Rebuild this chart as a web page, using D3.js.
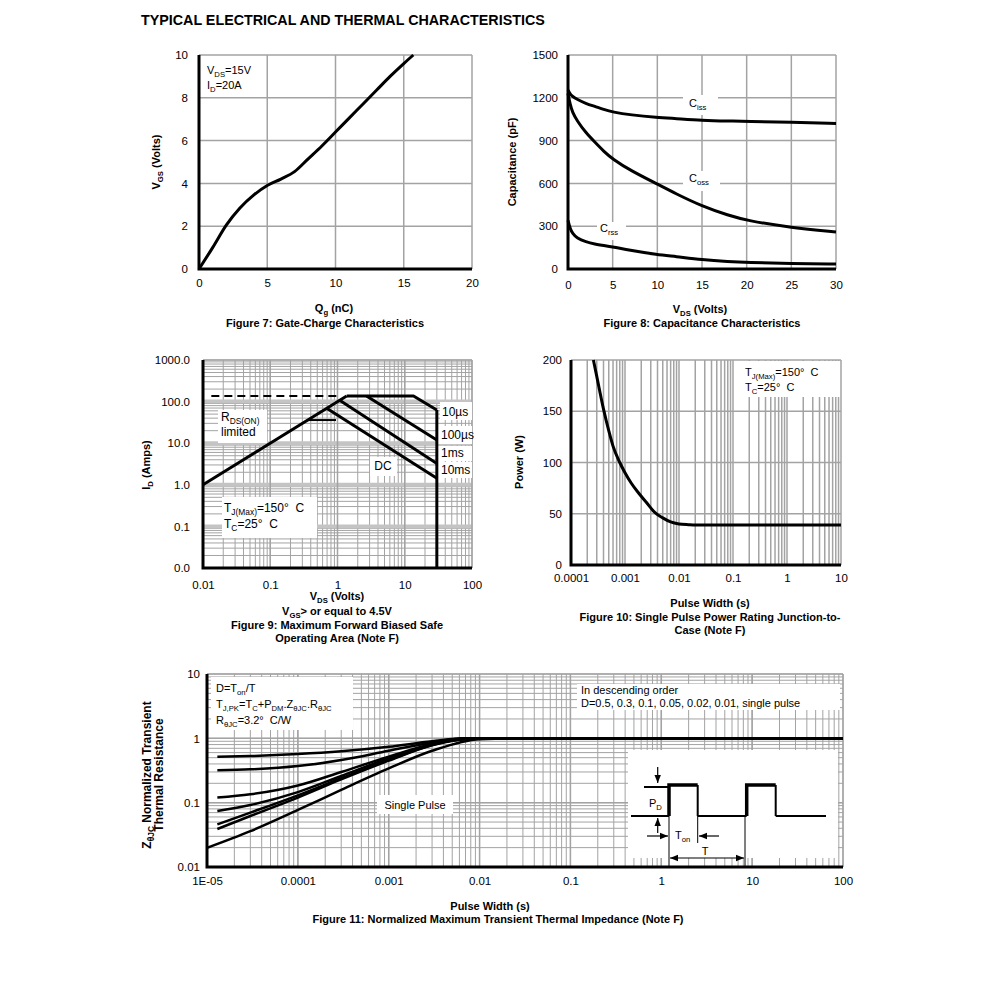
<!DOCTYPE html>
<html>
<head>
<meta charset="utf-8">
<script src="https://cdn.jsdelivr.net/npm/d3@7"></script>
<style>
  body { margin: 0; background: #fff; }
  text { font-family: 'Liberation Sans', Arial, sans-serif; fill: #000; }
</style>
</head>
<body>
<script>
// Figure 7: gate charge
const gateQ = [0, 1, 2, 3, 4, 5, 6, 7, 8, 9, 10, 11, 12, 13, 14, 15, 15.7]
const gateV = [0, 1, 2.05, 2.85, 3.45, 3.9, 4.2, 4.55, 5.15, 5.75, 6.4, 7.05, 7.7, 8.35, 9.0, 9.6, 10]

// Figure 8: capacitance
const capV = [0, 0.25, 0.5, 1, 2, 3, 4, 5, 7, 10, 12, 15, 18, 20, 25, 30]
const ciss = [1255, 1225, 1210, 1190, 1160, 1140, 1118, 1100, 1080, 1062, 1055, 1042, 1037, 1035, 1028, 1020]
const coss = [1230, 1150, 1100, 1040, 955, 890, 825, 770, 690, 595, 530, 440, 375, 340, 290, 260]
const crss = [340, 280, 250, 215, 190, 175, 165, 155, 130, 100, 88, 65, 52, 46, 38, 35]

// Figure 9: SOA
const rdsV = [0.01, 1.37]
const rdsI = [1, 137]
const dashV = [0.0133, 1.09]
const dashI = [137, 137]
const us10V = [1.37, 13.5, 30]
const us10I = [137, 137, 63]
const us100V = [2.7, 30]
const us100I = [137, 11.9]
const ms1V = [1.09, 30]
const ms1I = [106, 3.27]
const dcV = [0.69, 30]
const dcI = [69, 1.43]
const stepV = [0.35, 0.95]
const stepI = [36, 36]
const edgeV = [30, 30]
const edgeI = [63, 0.01]

// Figure 10: single pulse power
const pulseW = [0.00026, 0.0003, 0.0004, 0.0005, 0.0006, 0.0008, 0.001, 0.0013, 0.0018, 0.0025, 0.0036, 0.005, 0.007, 0.01, 0.015, 0.02, 10]
const pulseP = [200, 184, 152, 131, 116, 100, 90, 80, 70, 61, 51, 46, 42, 40, 39.3, 39, 39]

// Figure 11: transient thermal impedance
const zT = [1.3e-5, 3e-5, 1e-4, 3e-4, 1e-3, 3e-3, 7e-3, 0.02, 100]
const zD50 = [0.516, 0.53, 0.57, 0.63, 0.74, 0.9, 1.0, 1.0, 1.0]
const zD30 = [0.32, 0.33, 0.37, 0.46, 0.64, 0.86, 1.0, 1.0, 1.0]
const zD10 = [0.12, 0.135, 0.185, 0.3, 0.52, 0.82, 0.99, 1.0, 1.0]
const zD05 = [0.074, 0.092, 0.146, 0.26, 0.49, 0.8, 0.98, 1.0, 1.0]
const zD02 = [0.046, 0.07, 0.13, 0.24, 0.46, 0.79, 0.98, 1.0, 1.0]
const zD01 = [0.039, 0.062, 0.12, 0.23, 0.45, 0.78, 0.97, 1.0, 1.0]
const zSingleT = [1e-5, 3e-5, 1e-4, 3e-4, 1e-3, 3e-3, 1e-2, 0.03, 100]
const zSingle = [0.0198, 0.036, 0.077, 0.158, 0.34, 0.64, 0.97, 1.0, 1.0]

// tick labels
const f7xTicks = [0, 5, 10, 15, 20]
const f7yTicks = [0, 2, 4, 6, 8, 10]
const f8xTicks = [0, 5, 10, 15, 20, 25, 30]
const f8yTicks = [0, 300, 600, 900, 1200, 1500]
const f9xTicks = [0.01, 0.1, 1, 10, 100]
const f9xLabels = ['0.01', '0.1', '1', '10', '100']
const f9yTicks = [0.01, 0.1, 1, 10, 100, 1000]
const f9yLabels = ['0.0', '0.1', '1.0', '10.0', '100.0', '1000.0']
const f10xTicks = [0.0001, 0.001, 0.01, 0.1, 1, 10]
const f10xLabels = ['0.0001', '0.001', '0.01', '0.1', '1', '10']
const f10yTicks = [0, 50, 100, 150, 200]
const f11xTicks = [1e-5, 1e-4, 1e-3, 1e-2, 0.1, 1, 10, 100]
const f11xLabels = ['1E-05', '0.0001', '0.001', '0.01', '0.1', '1', '10', '100']
const f11yTicks = [0.01, 0.1, 1, 10]
const f11yLabels = ['0.01', '0.1', '1', '10']

const svg = d3.select('body').append('svg')
  .attr('width', 991)
  .attr('height', 982)

const GRID = '#a3a3a3'
const SP = '\u00a0'

// text with subscripts: parts are strings or [subscript]
const rich = (sel, parts) => {
  let shift = 0
  parts.forEach(p => {
    const sub = Array.isArray(p)
    const target = sub ? 2.5 : 0
    sel.append('tspan')
      .attr('dy', target - shift)
      .attr('font-size', sub ? '0.7em' : null)
      .text(sub ? p[0] : p)
    shift = target
  })
  return sel
}

const label = (x, y, parts, opts = {}) => {
  const t = svg.append('text')
    .attr('x', x).attr('y', y)
    .attr('font-size', opts.size || 11)
    .attr('font-weight', opts.bold ? 'bold' : null)
    .attr('text-anchor', opts.anchor || 'start')
  if (opts.rotate) t.attr('transform', `rotate(-90,${x},${y})`)
  return rich(t, parts)
}

const logTicks = (lo, hi) => d3.range(lo, hi).flatMap(e => d3.range(1, 10).map(k => +(k * Math.pow(10, e)).toPrecision(3))).concat([Math.pow(10, hi)])

const grid = (x, y, xs, ys, w = 1.5, color = GRID) => {
  const g = svg.append('g').attr('stroke', color).attr('stroke-width', w)
  g.selectAll(null).data(xs).join('line')
    .attr('x1', d => x(d)).attr('x2', d => x(d))
    .attr('y1', y.range()[0]).attr('y2', y.range()[1])
  g.selectAll(null).data(ys).join('line')
    .attr('y1', d => y(d)).attr('y2', d => y(d))
    .attr('x1', x.range()[0]).attr('x2', x.range()[1])
}

const box = (x0, y0, x1, y1) => {
  svg.append('rect').attr('x', x0).attr('y', y0)
    .attr('width', x1 - x0).attr('height', y1 - y0)
    .attr('fill', '#fff')
}

const axes = (x, y, xVals, xLabels, yVals, yLabels, padX, padY) => {
  svg.append('g')
    .attr('transform', `translate(0,${y.range()[0]})`)
    .call(d3.axisBottom(x).tickValues(xVals).tickFormat((d, i) => xLabels[i]).tickSize(0).tickPadding(padX))
    .call(g => g.select('.domain').remove())
    .call(g => g.selectAll('text').attr('font-size', 11.5).attr('font-family', null))
  svg.append('g')
    .attr('transform', `translate(${x.range()[0]},0)`)
    .call(d3.axisLeft(y).tickValues(yVals).tickFormat((d, i) => yLabels[i]).tickSize(0).tickPadding(padY))
    .call(g => g.select('.domain').remove())
    .call(g => g.selectAll('text').attr('font-size', 11.5).attr('font-family', null))
  const frame = svg.append('g').attr('stroke', '#000').attr('stroke-width', 3).attr('fill', 'none')
  frame.append('path')
    .attr('d', `M${x.range()[0]},${y.range()[1]}V${y.range()[0]}H${x.range()[1]}`)
}

const curve = (x, y, xs, ys, w = 3, dash = null, interp = d3.curveMonotoneX) => {
  svg.append('path')
    .datum(xs.map((d, i) => [d, ys[i]]))
    .attr('fill', 'none')
    .attr('stroke', '#000')
    .attr('stroke-width', w)
    .attr('stroke-dasharray', dash)
    .attr('stroke-linejoin', 'round')
    .attr('d', d3.line().x(d => x(d[0])).y(d => y(d[1])).curve(interp))
}

// title
label(141, 25, ['TYPICAL ELECTRICAL AND THERMAL CHARACTERISTICS'], { size: 14.3, bold: true })

// ---------- Figure 7 ----------
const x7 = d3.scaleLinear([0, 20], [199, 472])
const y7 = d3.scaleLinear([0, 10], [269, 55])
grid(x7, y7, [5, 10, 15, 20], [2, 4, 6, 8, 10])
curve(x7, y7, gateQ, gateV)
axes(x7, y7, f7xTicks, f7xTicks.map(String), f7yTicks, f7yTicks.map(String), 10, 11)
label(207, 74, ['V', ['DS'], '=15V'])
label(207, 89, ['I', ['D'], '=20A'])
label(160, 162, ['V', ['GS'], ' (Volts)'], { bold: true, anchor: 'middle', rotate: true })
label(334, 312, ['Q', ['g'], ' (nC)'], { bold: true, anchor: 'middle' })
label(325, 327, ['Figure 7: Gate-Charge Characteristics'], { bold: true, anchor: 'middle' })

// ---------- Figure 8 ----------
const x8 = d3.scaleLinear([0, 30], [568, 836])
const y8 = d3.scaleLinear([0, 1500], [269, 55])
grid(x8, y8, [5, 10, 15, 20, 25, 30], [300, 600, 900, 1200, 1500])
box(683, 95, 718, 115)
box(683, 171, 720, 191)
box(597, 222, 626, 240)
curve(x8, y8, capV, ciss, 3, null, d3.curveBasis)
curve(x8, y8, capV, coss, 3, null, d3.curveBasis)
curve(x8, y8, capV, crss, 3, null, d3.curveBasis)
axes(x8, y8, f8xTicks, f8xTicks.map(String), f8yTicks, f8yTicks.map(String), 12, 10)
label(689, 107, ['C', ['iss']])
label(689, 182, ['C', ['oss']])
label(600, 232, ['C', ['rss']])
label(516, 162, ['Capacitance (pF)'], { bold: true, anchor: 'middle', rotate: true })
label(700, 313, ['V', ['DS'], ' (Volts)'], { bold: true, anchor: 'middle' })
label(702, 327, ['Figure 8: Capacitance Characteristics'], { bold: true, anchor: 'middle' })

// ---------- Figure 9 ----------
const x9 = d3.scaleLog([0.01, 100], [203, 472])
const y9 = d3.scaleLog([0.01, 1000], [568, 360])
grid(x9, y9, logTicks(-2, 2), logTicks(-2, 3), 1, GRID)
grid(x9, y9, [], [0.1, 1, 10, 100], 4, '#c4c4c4')
grid(x9, y9, f9xTicks, [1000], 1.5, GRID)
box(218, 410, 267, 443)
box(222, 497, 317, 538)
box(370, 457, 397, 476)
box(440, 402, 472, 420)
box(438, 426, 472, 444)
box(438, 446, 472, 461)
box(438, 462, 472, 478)
curve(x9, y9, dashV, dashI, 2, '8,5', d3.curveLinear)
curve(x9, y9, rdsV, rdsI, 3, null, d3.curveLinear)
curve(x9, y9, stepV, stepI, 2, null, d3.curveLinear)
curve(x9, y9, us10V, us10I, 3, null, d3.curveLinear)
curve(x9, y9, us100V, us100I, 3, null, d3.curveLinear)
curve(x9, y9, ms1V, ms1I, 3, null, d3.curveLinear)
curve(x9, y9, dcV, dcI, 3, null, d3.curveLinear)
curve(x9, y9, edgeV, edgeI, 3, null, d3.curveLinear)
axes(x9, y9, f9xTicks, f9xLabels, f9yTicks, f9yLabels, 13, 13)
label(221, 421, ['R', ['DS(ON)']], { size: 12 })
label(221, 436, ['limited'], { size: 12 })
label(224, 512, ['T', ['J(Max)'], '=150°' + SP + SP + 'C'], { size: 12 })
label(224, 528, ['T', ['C'], '=25°' + SP + SP + 'C'], { size: 12 })
label(383, 470, ['DC'], { size: 12, anchor: 'middle' })
label(442, 416, ['10µs'], { size: 12 })
label(441, 439, ['100µs'], { size: 12 })
label(441, 457, ['1ms'], { size: 12 })
label(441, 474, ['10ms'], { size: 12 })
label(150, 465, ['I', ['D'], ' (Amps)'], { bold: true, anchor: 'middle', rotate: true })
label(337, 600, ['V', ['DS'], ' (Volts)'], { bold: true, anchor: 'middle' })
label(337, 615, ['V', ['GS'], '> or equal to 4.5V'], { bold: true, anchor: 'middle' })
label(337, 629, ['Figure 9: Maximum Forward Biased Safe'], { bold: true, anchor: 'middle' })
label(337, 642, ['Operating Area (Note F)'], { bold: true, anchor: 'middle' })

// ---------- Figure 10 ----------
const x10 = d3.scaleLog([0.0001, 10], [571, 841])
const y10 = d3.scaleLinear([0, 200], [565, 360])
grid(x10, y10, logTicks(-4, 1), [50, 100, 150, 200], 1.5, GRID)
box(735, 361, 840, 397)
curve(x10, y10, pulseW, pulseP)
axes(x10, y10, f10xTicks, f10xLabels, f10yTicks, f10yTicks.map(String), 9, 9)
label(745, 376, ['T', ['J(Max)'], '=150°' + SP + SP + 'C'])
label(745, 391, ['T', ['C'], '=25°' + SP + SP + 'C'])
label(523, 462, ['Power (W)'], { bold: true, anchor: 'middle', rotate: true })
label(710, 607, ['Pulse Width (s)'], { bold: true, anchor: 'middle' })
label(710, 621, ['Figure 10: Single Pulse Power Rating Junction-to-'], { bold: true, anchor: 'middle' })
label(710, 634, ['Case (Note F)'], { bold: true, anchor: 'middle' })

// ---------- Figure 11 ----------
const x11 = d3.scaleLog([1e-5, 100], [207, 843])
const y11 = d3.scaleLog([0.01, 10], [867, 674])
grid(x11, y11, logTicks(-5, 2), logTicks(-2, 1), 1, GRID)
grid(x11, y11, f11xTicks, f11yTicks, 1.5, GRID)
box(211, 677, 353, 730)
box(577, 684, 840, 710)
box(377, 795, 453, 814)
box(628, 750, 838, 858)
curve(x11, y11, zT, zD50, 2.5)
curve(x11, y11, zT, zD30, 2.5)
curve(x11, y11, zT, zD10, 2.5)
curve(x11, y11, zT, zD05, 2.5)
curve(x11, y11, zT, zD02, 2.5)
curve(x11, y11, zT, zD01, 2.5)
curve(x11, y11, zSingleT, zSingle, 2.5)
axes(x11, y11, f11xTicks, f11xLabels, f11yTicks, f11yLabels, 10, 7)
label(216, 692, ['D=T', ['on'], '/T'])
label(216, 708, ['T', ['J,PK'], '=T', ['C'], '+P', ['DM'], '.Z', ['θJC'], '.R', ['θJC']])
label(216, 724, ['R', ['θJC'], '=3.2°' + SP + SP + 'C/W'])
label(581, 694, ['In descending order'])
label(581, 707, ['D=0.5, 0.3, 0.1, 0.05, 0.02, 0.01, single pulse'])
label(415, 809, ['Single Pulse'], { anchor: 'middle' })
label(151, 775, ['Z', ['θJC'], ' Normalized Transient'], { bold: true, anchor: 'middle', rotate: true, size: 12 })
label(163, 775, ['Thermal Resistance'], { bold: true, anchor: 'middle', rotate: true, size: 12 })
label(490, 910, ['Pulse Width (s)'], { bold: true, anchor: 'middle' })
label(498, 923, ['Figure 11: Normalized Maximum Transient Thermal Impedance (Note F)'], { bold: true, anchor: 'middle' })

// duty cycle sketch inside figure 11 (local coordinates of the inset)
const inset = svg.append('g').attr('transform', 'translate(628,750)')
const defs = svg.append('defs')
defs.append('marker').attr('id', 'ah').attr('viewBox', '0 0 10 10')
  .attr('refX', 10).attr('refY', 5).attr('markerWidth', 7).attr('markerHeight', 7)
  .attr('orient', 'auto-start-reverse')
  .append('path').attr('d', 'M0,1L10,5L0,9Z').attr('fill', '#000')
const seg = (d, w) => inset.append('path').attr('d', d).attr('fill', 'none')
  .attr('stroke', '#000').attr('stroke-width', w)
seg('M3,66H41M69.7,66H118.7M147.7,66H198', 2)
seg('M16,37H41', 2)
seg('M41,66V35H69.7M118.7,66V35H147.7', 3.5)
seg('M69.7,35V66M147.7,35V66', 2)
seg('M41,66V117M69.7,66V93M117,66V117', 1)
seg('M29.7,17V33', 1.2).attr('marker-end', 'url(#ah)')
seg('M29.7,83V68', 1.2).attr('marker-end', 'url(#ah)')
seg('M19,86H40', 1.2).attr('marker-end', 'url(#ah)')
seg('M91,86H71', 1.2).attr('marker-end', 'url(#ah)')
seg('M42,108H116', 1.2).attr('marker-start', 'url(#ah)').attr('marker-end', 'url(#ah)')
inset.append('text').attr('x', 21).attr('y', 57).attr('font-size', 11).call(t => rich(t, ['P', ['D']]))
inset.append('text').attr('x', 47).attr('y', 89).attr('font-size', 11).call(t => rich(t, ['T', ['on']]))
inset.append('text').attr('x', 77).attr('y', 105).attr('font-size', 11).attr('text-anchor', 'middle').text('T')
</script>
</body>
</html>
